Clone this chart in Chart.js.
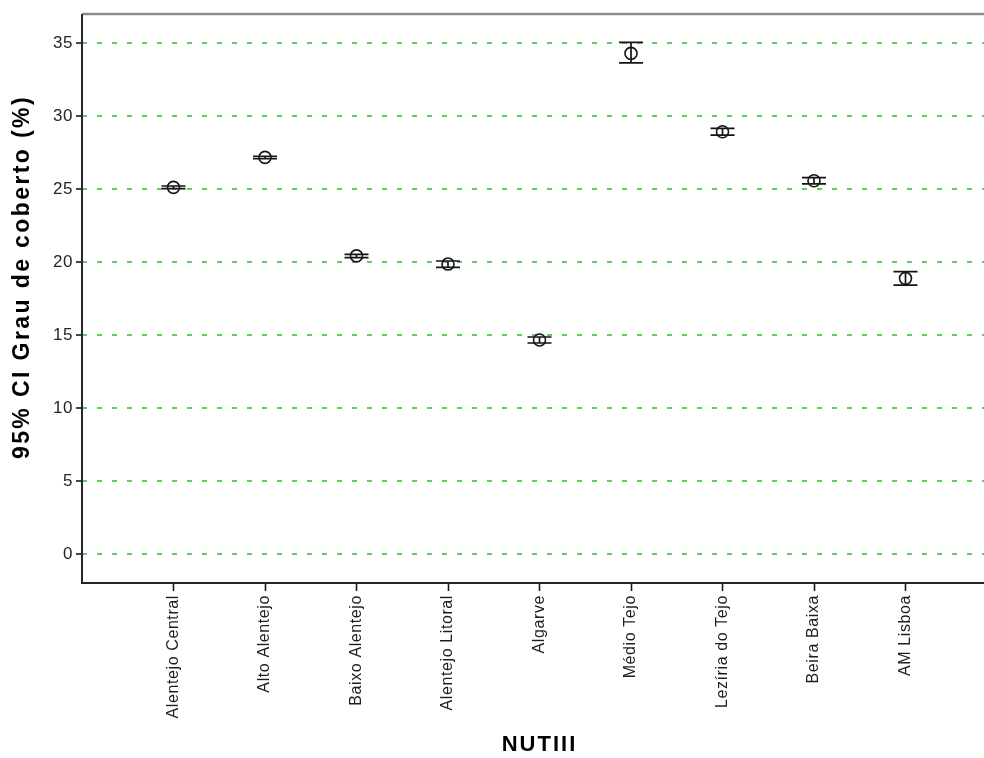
<!DOCTYPE html>
<html>
<head>
<meta charset="utf-8">
<title>95% CI Grau de coberto por NUTIII</title>
<script src="https://cdn.jsdelivr.net/npm/chart.js@4.4.0/dist/chart.umd.min.js"></script>
<style>
  html, body { margin: 0; padding: 0; background: #fff; overflow: hidden; }
  #chartBox { position: absolute; left: 0; top: 0; }
</style>
</head>
<body>
<canvas id="chartBox" width="1010" height="758"></canvas>
<script>
// data
const categories = ["Alentejo Central", "Alto Alentejo", "Baixo Alentejo", "Alentejo Litoral",
  "Algarve", "Médio Tejo", "Lezíria do Tejo", "Beira Baixa", "AM Lisboa"];
const means = [25.12, 27.17, 20.42, 19.86, 14.66, 34.30, 28.93, 25.57, 18.88];
const lower = [25.03, 27.09, 20.30, 19.63, 14.45, 33.65, 28.70, 25.35, 18.42];
const upper = [25.21, 27.25, 20.53, 20.07, 14.86, 35.05, 29.16, 25.78, 19.34];
const yTicks = [0, 5, 10, 15, 20, 25, 30, 35];
const xTitle = "NUTIII";
const yTitle = "95% CI Grau de coberto (%)";

(() => {
  const FONT = "'Liberation Sans', Arial, sans-serif";

  /* ---------------- PLUGINS ---------------- */
  // the SPSS text is a bit wider than plain Arial
  const spacing = {
    id: "spacing",
    beforeLayout(chart) { chart.ctx.letterSpacing = "0.6px"; },
    beforeDraw(chart) { chart.ctx.letterSpacing = "0.6px"; }
  };

  const errorBars = {
    id: "errorBars",
    afterDatasetsDraw(chart) {
      const { ctx, scales: { x, y } } = chart;
      ctx.save();
      ctx.strokeStyle = "#151515";
      ctx.lineWidth = 1.7;
      categories.forEach((c, i) => {
        const px = x.getPixelForValue(i + 1);
        const lo = y.getPixelForValue(lower[i]);
        const hi = y.getPixelForValue(upper[i]);
        ctx.beginPath();
        ctx.moveTo(px, lo); ctx.lineTo(px, hi);
        ctx.moveTo(px - 12, lo); ctx.lineTo(px + 12, lo);
        ctx.moveTo(px - 12, hi); ctx.lineTo(px + 12, hi);
        ctx.stroke();
      });
      ctx.restore();
    }
  };

  const frame = {
    id: "frame",
    afterDraw(chart) {
      const { ctx, chartArea: a } = chart;
      ctx.save();
      ctx.lineWidth = 2.5;
      ctx.strokeStyle = "#8c8c8c";
      ctx.beginPath();
      ctx.moveTo(a.left, a.top); ctx.lineTo(a.right, a.top);
      ctx.stroke();
      ctx.strokeStyle = "#262626";
      ctx.lineWidth = 2;
      ctx.beginPath();
      ctx.moveTo(a.left, a.top); ctx.lineTo(a.left, a.bottom); ctx.lineTo(a.right, a.bottom);
      ctx.stroke();

      // axis titles
      ctx.fillStyle = "#000";
      ctx.textAlign = "center";
      ctx.textBaseline = "middle";
      ctx.font = "bold 22px " + FONT;
      ctx.letterSpacing = "2px";
      ctx.fillText(xTitle, (a.left + a.right) / 2, 745);
      ctx.font = "bold 23px " + FONT;
      ctx.letterSpacing = "2.4px";
      ctx.translate(23, 277);
      ctx.rotate(-Math.PI / 2);
      ctx.fillText(yTitle, 0, 0);
      ctx.restore();
    }
  };

  /* ---------------- CHART ---------------- */
  new Chart(document.getElementById("chartBox"), {
    type: "scatter",
    data: {
      datasets: [{
        data: means.map((m, i) => ({ x: i + 1, y: m })),
        pointStyle: "circle",
        pointRadius: 6,
        pointHoverRadius: 6,
        pointBorderWidth: 1.6,
        pointBorderColor: "#151515",
        pointBackgroundColor: "rgba(0,0,0,0)"
      }]
    },
    options: {
      responsive: false,
      animation: false,
      layout: { padding: { top: 14, right: 13, left: 0, bottom: 0 } },
      plugins: { legend: { display: false }, tooltip: { enabled: false } },
      scales: {
        x: {
          type: "linear",
          min: 0,
          max: 10,
          afterBuildTicks: s => { s.ticks = categories.map((c, i) => ({ value: i + 1 })); },
          afterFit: s => { s.height = 175; },
          border: { display: false },
          grid: { drawOnChartArea: false, tickLength: 8, tickColor: "#1a1a1a", tickWidth: 1.6 },
          ticks: {
            autoSkip: false,
            minRotation: 90,
            maxRotation: 90,
            padding: 4,
            color: "#1e1e1e",
            font: { family: FONT, size: 16 },
            callback: v => categories[v - 1] || ""
          }
        },
        y: {
          min: -2,
          max: 37,
          afterBuildTicks: s => { s.ticks = yTicks.map(v => ({ value: v })); },
          afterFit: s => { s.width = 82; },
          border: { display: false, dash: [5, 10] },
          grid: {
            color: "#62cc62",
            lineWidth: 2,
            tickLength: 6,
            tickColor: "#1a1a1a",
            tickWidth: 1.6,
            tickBorderDash: []
          },
          ticks: {
            padding: 3,
            color: "#262626",
            font: { family: FONT, size: 17 }
          }
        }
      }
    },
    plugins: [spacing, errorBars, frame]
  });
})();
</script>
</body>
</html>
